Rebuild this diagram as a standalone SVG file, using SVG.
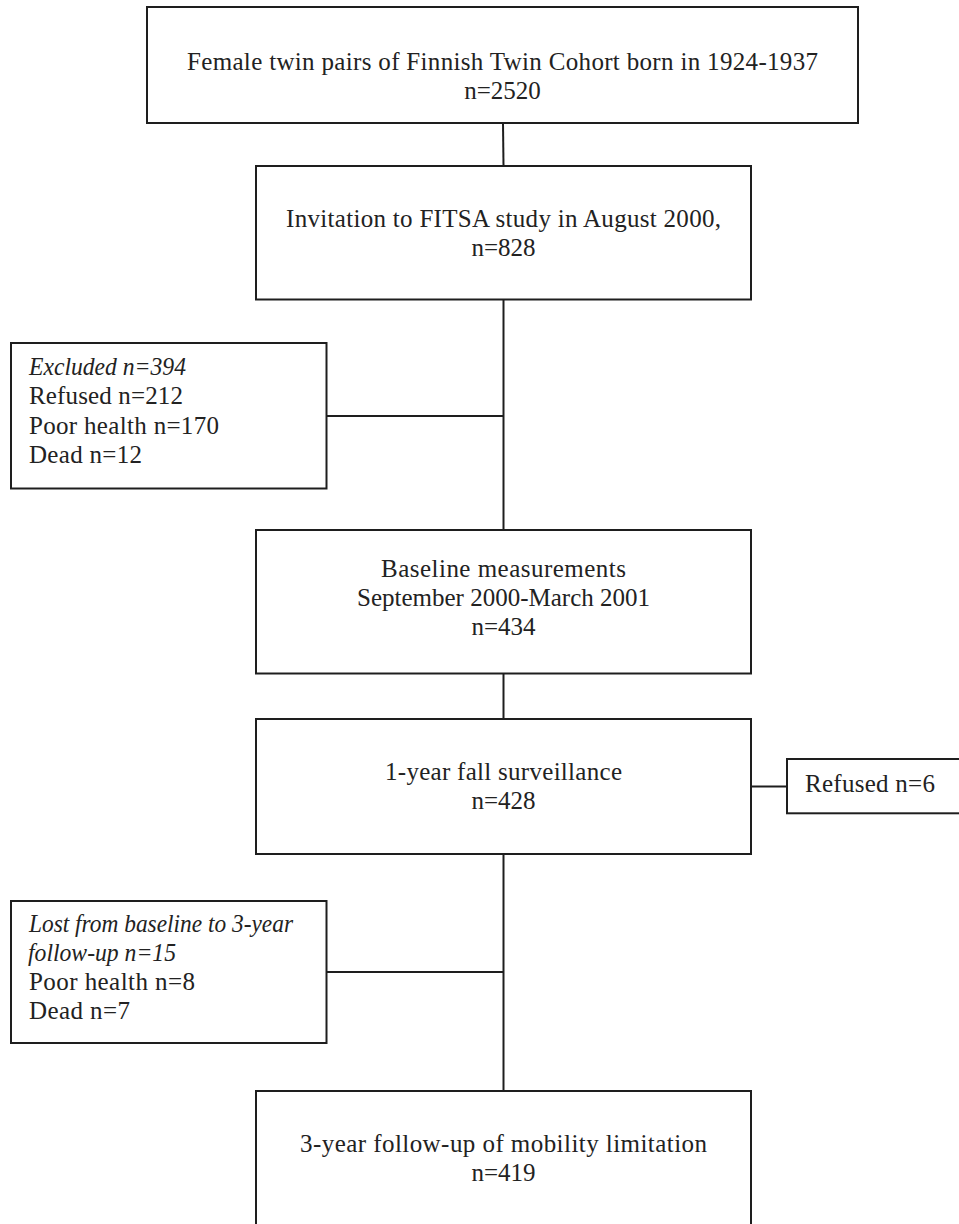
<svg xmlns="http://www.w3.org/2000/svg" width="959" height="1224" viewBox="0 0 959 1224">
<style>
.box{fill:#fff;stroke:#1e1e1e;stroke-width:2}
.con{stroke:#1e1e1e;stroke-width:2;fill:none}
.t{font-family:"Liberation Serif","Times New Roman",serif;font-size:25px;fill:#222}
.c{text-anchor:middle}
.i{font-style:italic}
</style>
<rect width="959" height="1224" fill="#fff"/>
<g id="connectors">
<line class="con" x1="503" y1="123" x2="503.5" y2="166"/>
<line class="con" x1="503.5" y1="299.5" x2="503.5" y2="530"/>
<line class="con" x1="326.5" y1="416" x2="503.5" y2="416"/>
<line class="con" x1="503.5" y1="673.5" x2="503.5" y2="719"/>
<line class="con" x1="751" y1="786.5" x2="787" y2="786.5"/>
<line class="con" x1="503.5" y1="854" x2="503.5" y2="1091"/>
<line class="con" x1="326.5" y1="972" x2="503.5" y2="972"/>
</g>
<g id="n1">
<rect class="box" x="147" y="7" width="711" height="116"/>
<text class="t c" x="502.5" y="70" textLength="631" lengthAdjust="spacing">Female twin pairs of Finnish Twin Cohort born in 1924-1937</text>
<text class="t c" x="502.5" y="99">n=2520</text>
</g>
<g id="n2">
<rect class="box" x="256" y="166" width="495" height="133.5"/>
<text class="t c" x="503.5" y="227" textLength="435" lengthAdjust="spacing">Invitation to FITSA study in August 2000,</text>
<text class="t c" x="503.5" y="256">n=828</text>
</g>
<g id="n_excluded">
<rect class="box" x="11" y="343" width="315.5" height="145.5"/>
<text class="t i" x="29" y="374.5" textLength="157" lengthAdjust="spacingAndGlyphs">Excluded n=394</text>
<text class="t" x="29" y="404" textLength="154" lengthAdjust="spacing">Refused n=212</text>
<text class="t" x="29" y="433.5" textLength="190" lengthAdjust="spacing">Poor health n=170</text>
<text class="t" x="29" y="463" textLength="113" lengthAdjust="spacing">Dead n=12</text>
</g>
<g id="n3">
<rect class="box" x="256" y="530" width="495" height="143.5"/>
<text class="t c" x="503.5" y="577" textLength="245" lengthAdjust="spacing">Baseline measurements</text>
<text class="t c" x="503.5" y="606" textLength="293" lengthAdjust="spacing">September 2000-March 2001</text>
<text class="t c" x="503.5" y="635">n=434</text>
</g>
<g id="n4">
<rect class="box" x="256" y="719" width="495" height="135"/>
<text class="t c" x="503.5" y="780" textLength="237" lengthAdjust="spacing">1-year fall surveillance</text>
<text class="t c" x="503.5" y="809">n=428</text>
</g>
<g id="n_refused">
<rect class="box" x="787" y="759" width="185" height="54.3"/>
<text class="t" x="805" y="792" textLength="130" lengthAdjust="spacing">Refused n=6</text>
</g>
<g id="n_lost">
<rect class="box" x="11" y="901" width="315.5" height="142"/>
<text class="t i" x="29" y="932" textLength="264" lengthAdjust="spacingAndGlyphs">Lost from baseline to 3-year</text>
<text class="t i" x="28" y="960.5" textLength="148" lengthAdjust="spacingAndGlyphs">follow-up n=15</text>
<text class="t" x="29" y="990" textLength="166" lengthAdjust="spacing">Poor health n=8</text>
<text class="t" x="29" y="1019" textLength="101" lengthAdjust="spacing">Dead n=7</text>
</g>
<g id="n5">
<rect class="box" x="256" y="1091" width="495" height="145"/>
<text class="t c" x="503.5" y="1152" textLength="407" lengthAdjust="spacing">3-year follow-up of mobility limitation</text>
<text class="t c" x="503.5" y="1181">n=419</text>
</g>
</svg>
